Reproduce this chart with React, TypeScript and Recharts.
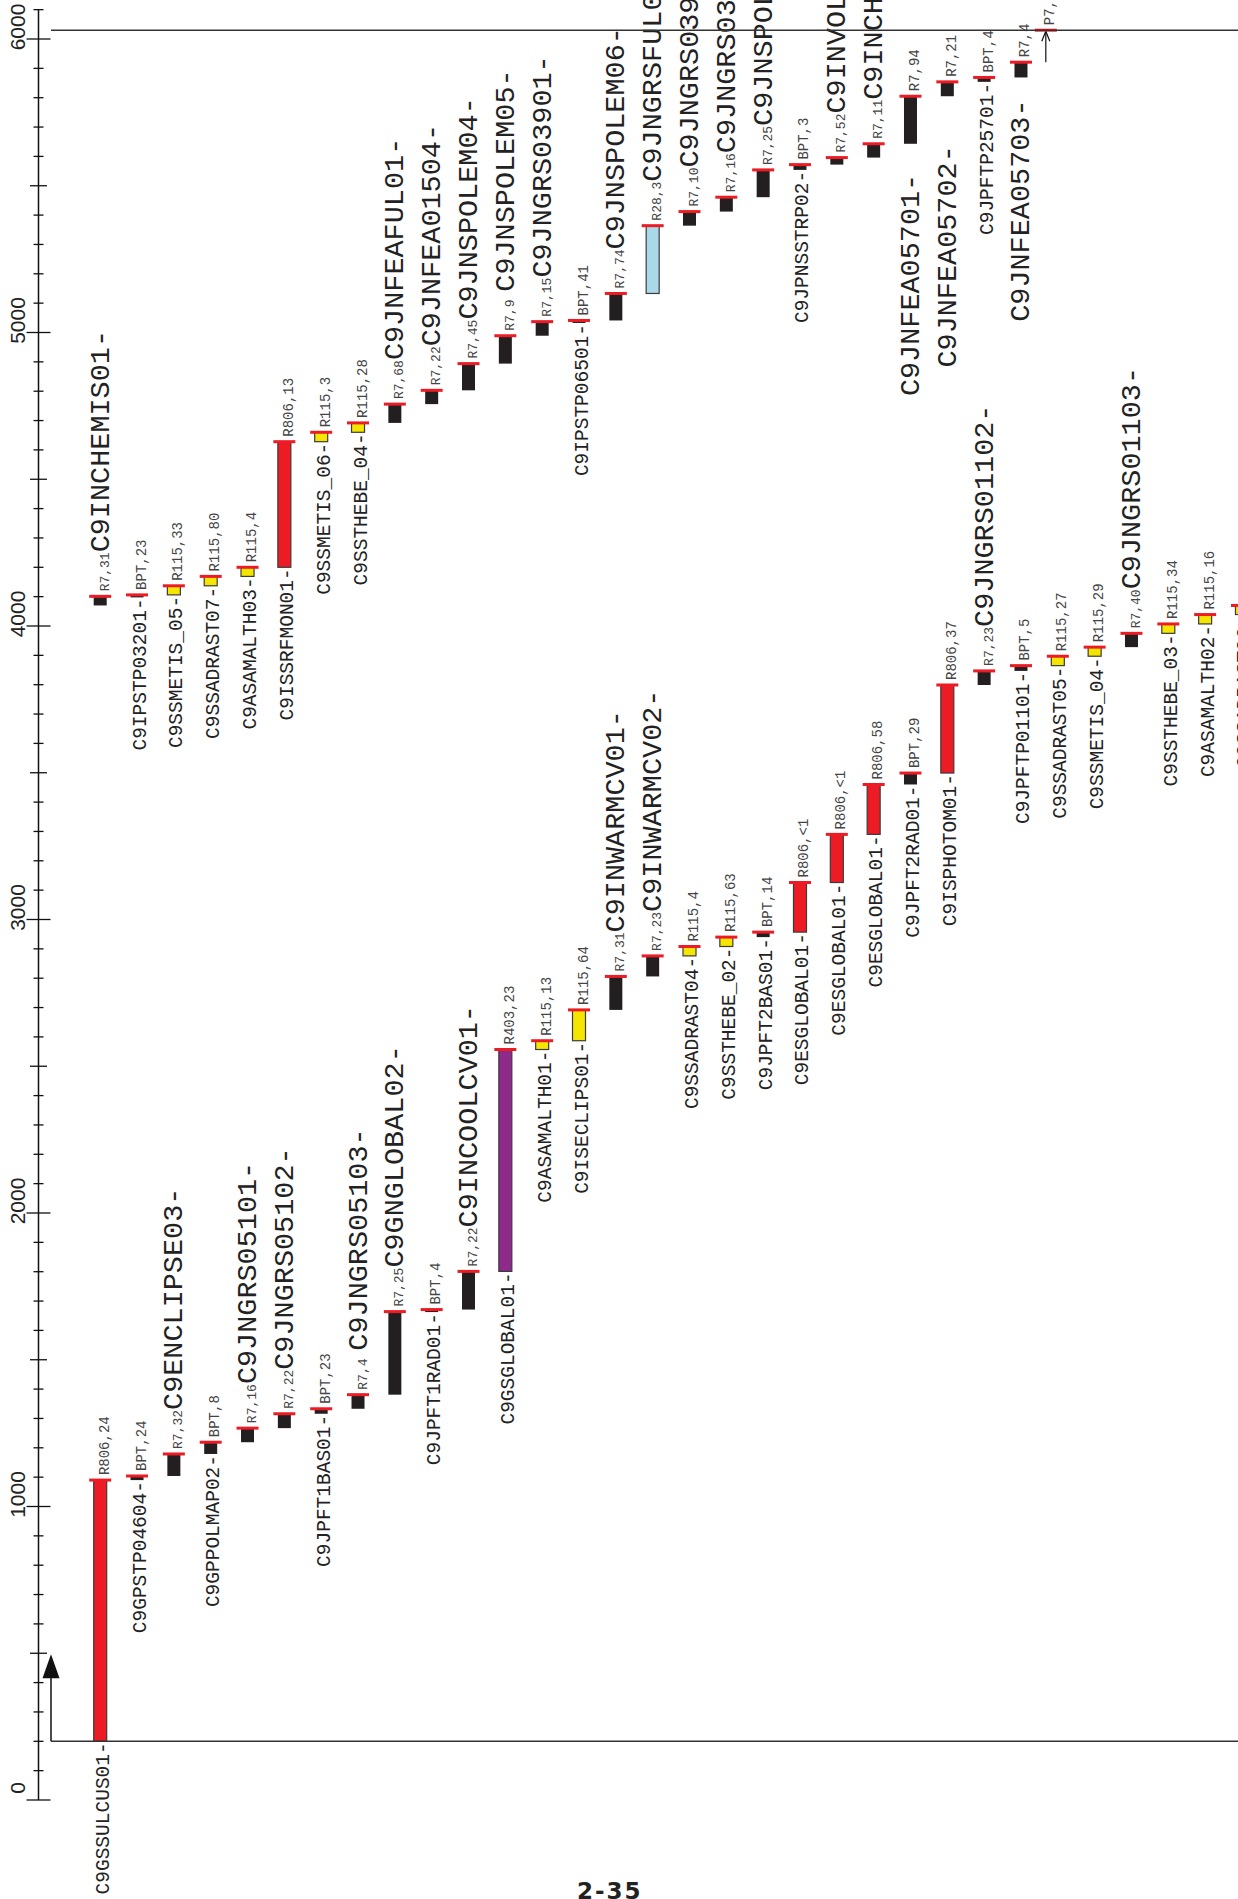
import { ComposedChart, Bar, XAxis, YAxis, ReferenceLine } from "recharts"

// column slots (the sequence wraps into two rows that share these columns)
const SLOTS = Array.from({ length: 32 }, (_, i) => String(i + 1))

// lower row: 200 .. 4070
const LOWER_NAMES = [
  "C9GSSULCUS01", "C9GPSTP04604", "C9ENCLIPSE03", "C9GPPOLMAP02", "C9JNGRS05101",
  "C9JNGRS05102", "C9JPFT1BAS01", "C9JNGRS05103", "C9GNGLOBAL02", "C9JPFT1RAD01",
  "C9INCOOLCV01", "C9GSGLOBAL01", "C9ASAMALTH01", "C9ISECLIPS01", "C9INWARMCV01",
  "C9INWARMCV02", "C9SSADRAST04", "C9SSTHEBE_02", "C9JPFT2BAS01", "C9ESGLOBAL01",
  "C9ESGLOBAL01", "C9ESGLOBAL01", "C9JPFT2RAD01", "C9ISPHOTOM01", "C9JNGRS01102",
  "C9JPFTP01101", "C9SSADRAST05", "C9SSMETIS_04", "C9JNGRS01103", "C9SSTHEBE_03",
  "C9ASAMALTH02", "C9SSADRAST06",
]
const LOWER_CODES = [
  "R806,24", "BPT,24", "R7,32", "BPT,8", "R7,16", "R7,22", "BPT,23", "R7,4", "R7,25", "BPT,4",
  "R7,22", "R403,23", "R115,13", "R115,64", "R7,31", "R7,23", "R115,4", "R115,63", "BPT,14", "R806,<1",
  "R806,<1", "R806,58", "BPT,29", "R806,37", "R7,23", "BPT,5", "R115,27", "R115,29", "R7,40", "R115,34",
  "R115,16", "R115,5",
]
const LOWER_START = [
  200, 1090, 1104, 1179, 1219, 1267, 1316, 1333, 1381, 1664,
  1671, 1801, 2557, 2587, 2692, 2806, 2876, 2908, 2940, 2957,
  3126, 3290, 3460, 3499, 3799, 3847, 3865, 3897, 3928, 3975,
  4007, 4039,
]
const LOWER_END = [
  1090, 1104, 1179, 1219, 1267, 1316, 1333, 1381, 1664, 1671,
  1801, 2557, 2587, 2692, 2806, 2876, 2908, 2940, 2957, 3126,
  3290, 3460, 3499, 3799, 3847, 3865, 3897, 3928, 3975, 4007,
  4039, 4070,
]

// upper row: 4070 .. top
const UPPER_NAMES = [
  "C9INCHEMIS01", "C9IPSTP03201", "C9SSMETIS_05", "C9SSADRAST07", "C9ASAMALTH03",
  "C9ISSRFMON01", "C9SSMETIS_06", "C9SSTHEBE_04", "C9JNFEAFUL01", "C9JNFEA01504",
  "C9JNSPOLEM04", "C9JNSPOLEM05", "C9JNGRS03901", "C9IPSTP06501", "C9JNSPOLEM06",
  "C9JNGRSFUL01", "C9JNGRS03902", "C9JNGRS03903", "C9JNSPOLEM07", "C9JPNSSTRP02",
  "C9INVOLCAN01", "C9INCHEMIS02", "C9JNFEA05701", "C9JNFEA05702", "C9JPFTP25701",
  "C9JNFEA05703", "",
]
const UPPER_CODES = [
  "R7,31", "BPT,23", "R115,33", "R115,80", "R115,4", "R806,13", "R115,3", "R115,28", "R7,68", "R7,22",
  "R7,45", "R7,9", "R7,15", "BPT,41", "R7,74", "R28,3", "R7,10", "R7,16", "R7,25", "BPT,3",
  "R7,52", "R7,11", "R7,94", "R7,21", "BPT,4", "R7,4", "P7,10",
]
const UPPER_START = [
  4070, 4101, 4106, 4137, 4169, 4200, 4628, 4660, 4692, 4756,
  4803, 4894, 4989, 5037, 5041, 5133, 5364, 5412, 5461, 5554,
  5572, 5596, 5643, 5805, 5854, 5869, 5921,
]
const UPPER_END = [
  4101, 4106, 4137, 4169, 4200, 4628, 4660, 4692, 4756, 4803,
  4894, 4989, 5037, 5041, 5133, 5364, 5412, 5461, 5554, 5572,
  5596, 5643, 5805, 5854, 5869, 5921, 6030,
]

// big names that sit under their bar instead of after the code (gap in px)
const NAME_BELOW_GAP: Record<number, number> = { 22: 30, 23: 49, 25: 22 }

const Y_LABELS = [0, 1000, 2000, 3000, 4000, 5000, 6000]
const Y_TICKS = Array.from({ length: 62 }, (_, i) => i * 100)
const FRAME_BOTTOM = 200
const FRAME_TOP = 6030

const BLACK = "#231f20"
const CAP = "#ed1c24"
const MONO = "Liberation Mono, monospace"
const AXIS_X = 38.5

function colorFor(code: string) {
  if (code.startsWith("R806")) return "#ed1c24"
  if (code.startsWith("R115")) return "#f4e600"
  if (code.startsWith("R403")) return "#8e2a8c"
  if (code.startsWith("R28")) return "#a9d9e8"
  return BLACK
}

const rows = SLOTS.map((slot, i) => ({
  slot,
  lower: [LOWER_START[i], LOWER_END[i]],
  lowerItem: { name: LOWER_NAMES[i], code: LOWER_CODES[i], gap: 1 },
  upper: i < UPPER_NAMES.length ? [UPPER_START[i], UPPER_END[i]] : null,
  upperItem:
    i < UPPER_NAMES.length
      ? { name: UPPER_NAMES[i], code: UPPER_CODES[i], gap: NAME_BELOW_GAP[i] ?? 1, below: i in NAME_BELOW_GAP }
      : null,
}))

function rot(x: number, y: number) {
  return `translate(${x},${y}) rotate(-90)`
}

function makeShape(which: "lowerItem" | "upperItem") {
  return function EventShape(p: any) {
    const item = p.payload?.[which]
    if (!item || p.y == null) return <g />
    const top = Math.min(p.y, p.y + p.height)
    const bottom = Math.max(p.y, p.y + p.height)
    const cx = p.x + p.width / 2
    const tx = p.x + p.width + 2
    const code: string = item.code

    if (code.startsWith("P")) {
      const ax = cx - 12
      return (
        <g>
          <line x1={ax} x2={ax} y1={bottom} y2={top + 1} stroke="#111" strokeWidth={1.2} />
          <polyline points={`${ax - 4},${top + 11} ${ax},${top + 1} ${ax + 4},${top + 11}`} fill="none" stroke="#111" strokeWidth={1.2} />
          <line x1={ax - 11} x2={ax + 11} y1={top} y2={top} stroke={CAP} strokeWidth={3} />
          <text transform={rot(ax + 8, top - 5)} fontFamily={MONO} fontSize={14} fill="#444">{code}</text>
        </g>
      )
    }

    const fill = colorFor(code)
    const big = /^R(7|28),/.test(code)
    const h = Math.max(bottom - top, 2.5)
    return (
      <g>
        <rect
          x={p.x}
          y={top}
          width={p.width}
          height={h}
          fill={fill}
          stroke={fill === BLACK ? "none" : "#3b3b3b"}
          strokeWidth={1.2}
        />
        <line x1={cx - 11} x2={cx + 11} y1={top} y2={top} stroke={CAP} strokeWidth={3} />
        {big && !item.below ? (
          <text transform={rot(tx, top - 5)} fontFamily={MONO} fill="#222">
            <tspan fontSize={13} fill="#444">{code.padEnd(5, "\u00a0")}</tspan>
            <tspan fontSize={28.5}>{item.name}-</tspan>
          </text>
        ) : (
          <>
            <text transform={rot(tx, top - 5)} fontFamily={MONO} fontSize={14} fill="#444">{code}</text>
            <text
              transform={rot(tx, top + h + item.gap)}
              textAnchor="end"
              fontFamily={MONO}
              fontSize={big ? 28.5 : 19.5}
              fill="#222"
            >
              {item.name}-
            </text>
          </>
        )}
      </g>
    )
  }
}

function AxisTick(props: any) {
  const { y, payload } = props
  const v = payload.value
  const major = Y_LABELS.includes(v)
  const half = major ? 12 : v % 500 === 0 ? 8.5 : 5
  return (
    <g>
      <line x1={AXIS_X - half} x2={AXIS_X + half} y1={y} y2={y} stroke="#111" strokeWidth={1.3} />
      {major && (
        <text transform={rot(25, y - 12)} textAnchor="middle" fontFamily="Liberation Sans" fontSize={21} fill="#222">
          {v}
        </text>
      )}
    </g>
  )
}

function FrameLine(p: any, arrow: boolean) {
  const x0 = p.x1 + 12.5
  const y = p.y1
  return (
    <g>
      <line x1={x0} x2={p.x2 + 20} y1={y} y2={y} stroke="#333" strokeWidth={1.5} />
      {arrow && (
        <>
          <line x1={x0} x2={x0} y1={y} y2={y - 70} stroke="#111" strokeWidth={1.5} />
          <polygon points={`${x0},${y - 87} ${x0 - 8.5},${y - 63} ${x0 + 8.5},${y - 63}`} fill="#111" />
        </>
      )}
    </g>
  )
}

export default function App() {
  return (
    <div
      style={{
        position: "absolute",
        left: 0,
        top: 0,
        width: 1238,
        height: 1899,
        overflow: "hidden",
        background: "#fff",
      }}
    >
      <ComposedChart
        width={1262}
        height={1899}
        data={rows}
        margin={{ top: 9.65, right: 1.7, bottom: 99, left: 0 }}
      >
        <XAxis xAxisId="lower" dataKey="slot" hide padding={{ left: 43.2, right: 0 }} />
        <XAxis xAxisId="upper" dataKey="slot" hide padding={{ left: 43.2, right: 0 }} />
        <YAxis
          type="number"
          domain={[0, 6100]}
          ticks={Y_TICKS}
          interval={0}
          width={AXIS_X}
          axisLine={{ stroke: "#111", strokeWidth: 1.5 }}
          tickLine={false}
          tick={(props: any) => <AxisTick {...props} />}
        />
        <ReferenceLine xAxisId="lower" y={FRAME_BOTTOM} shape={(p: any) => FrameLine(p, true)} />
        <ReferenceLine xAxisId="lower" y={FRAME_TOP} shape={(p: any) => FrameLine(p, false)} />
        <Bar xAxisId="lower" dataKey="lower" barSize={13} shape={makeShape("lowerItem")} isAnimationActive={false} />
        <Bar xAxisId="upper" dataKey="upper" barSize={13} shape={makeShape("upperItem")} isAnimationActive={false} />
      </ComposedChart>
      <svg width={1238} height={1899} style={{ position: "absolute", left: 0, top: 0, pointerEvents: "none" }}>
        <text x={577} y={1899} fontFamily="DejaVu Sans" fontWeight="bold" fontSize={23} letterSpacing={2} fill="#222">
          2-35
        </text>
      </svg>
    </div>
  )
}
